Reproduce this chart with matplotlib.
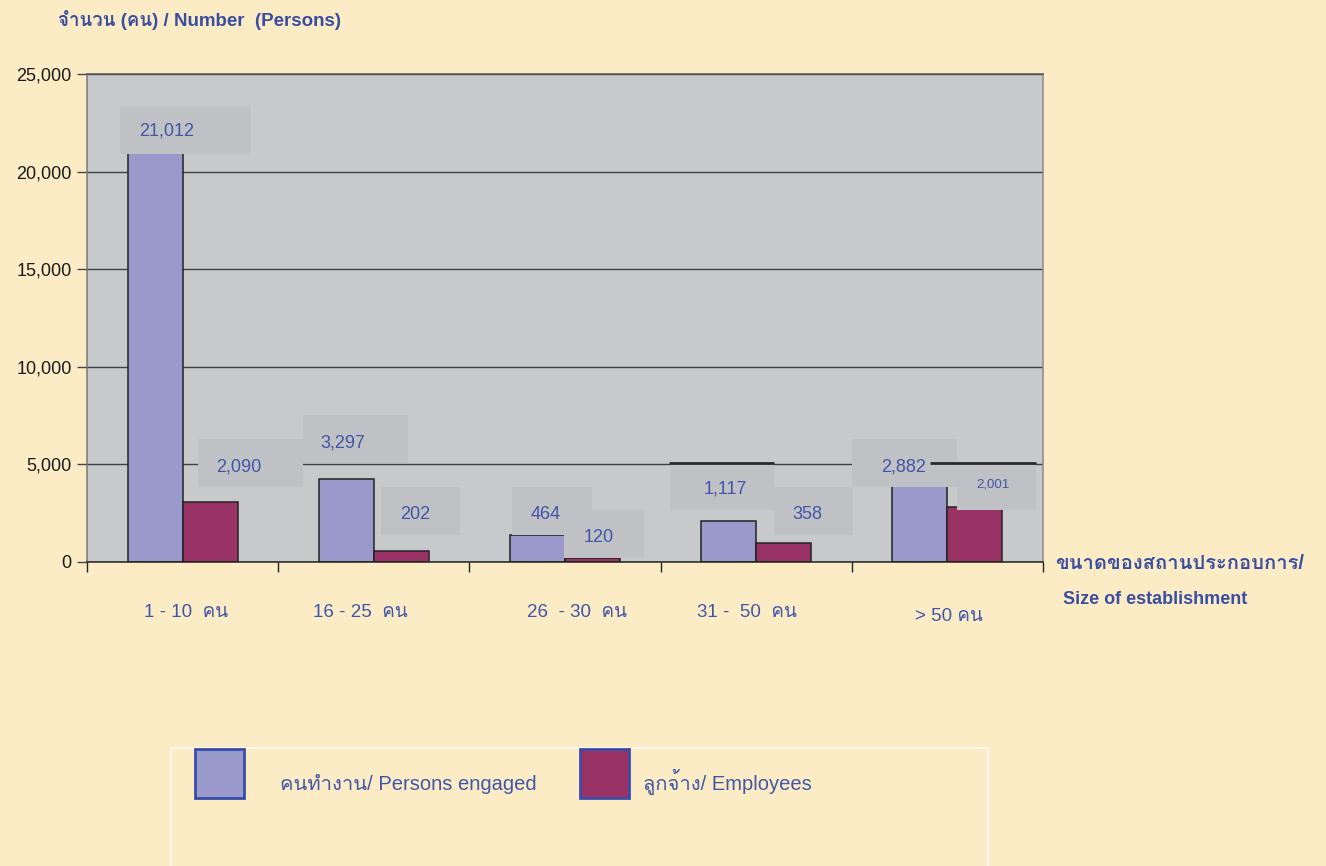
import numpy as np
import matplotlib.pyplot as plt
from matplotlib import font_manager
from matplotlib.patches import Rectangle
from matplotlib.ticker import FuncFormatter

# data
categories = ['1 - 10  คน', '16 - 25  คน', '26  - 30  คน', '31 -  50  คน', '> 50 คน']
series_names = ['คนทำงาน/ Persons engaged', 'ลูกจ้าง/ Employees']
# value labels as printed on the chart
persons_lbl = [21012, 3297, 464, 1117, 2882]
employees_lbl = [2090, 202, 120, 358, 2001]
# bar heights as drawn on the chart
persons_bar = [21012, 4270, 1380, 2110, 4100]
employees_bar = [3080, 580, 220, 975, 2800]
yticks = [0, 5000, 10000, 15000, 20000, 25000]


# find an installed font that has Thai glyphs (used as fallback for Thai only)
def thai_family():
    seen = set()
    for f in font_manager.fontManager.ttflist:
        if f.name in seen:
            continue
        seen.add(f.name)
        try:
            ft = font_manager.get_font(f.fname)
            if ft.get_char_index(0x0E01):
                return f.name
        except Exception:
            pass
    return None


th = thai_family()
fams = ['Liberation Sans'] + ([th] if th else []) + ['DejaVu Sans']
plt.rcParams['font.family'] = fams

bg = '#fcecc6'
plot_bg = '#c8c9cb'
box_bg = '#c0c1c4'
c_pers = '#9999cc'
c_emp = '#993366'
blue = '#4156a8'
dblue = '#3a4da0'

fig = plt.figure(figsize=(13.26, 8.66), dpi=100, facecolor=bg)
ax = fig.add_axes([87 / 1326, 1 - 562 / 866, 956 / 1326, 488 / 866])
ax.set_facecolor(plot_bg)

x = np.arange(len(categories))
w = 0.288
ax.bar(x, persons_bar, width=-w, align='edge', color=c_pers,
       edgecolor='#222222', linewidth=1.1, zorder=2)
ax.bar(x, employees_bar, width=w, align='edge', color=c_emp,
       edgecolor='#222222', linewidth=1.1, zorder=2)

ax.set_xlim(-0.5, 4.5)
ax.set_ylim(0, 25000)
ax.set_yticks(yticks)
ax.yaxis.set_major_formatter(FuncFormatter(lambda v, p: f'{int(v):,}'))
ax.tick_params(axis='y', direction='out', length=7, width=1, colors='#444444',
               labelsize=13, labelcolor='#1a1a1a', pad=4)
ax.set_xticks(np.arange(-0.5, 5, 1))
ax.set_xticklabels([])
ax.tick_params(axis='x', direction='out', length=7, width=1, colors='#222222')
ax.grid(axis='y', color='#404040', linewidth=1.0, zorder=1)
ax.set_axisbelow(True)
ax.spines['top'].set_color('#555555')
ax.spines['left'].set_color('#777777')
ax.spines['right'].set_color('#8a8a8a')
ax.spines['bottom'].set_color('#222222')
for s in ax.spines.values():
    s.set_linewidth(1.1)

# value label boxes: (x0, x1, y0, y1) and text position, per label
lbl_text = [f'{v:,}' for v in persons_lbl] + [f'{v:,}' for v in employees_lbl]
boxes = [(-0.327, 0.359, 20900, 23360), (0.631, 1.181, 5072, 7531),
         (1.725, 2.139, 1383, 3842), (2.547, 3.092, 2664, 5020),
         (3.500, 4.050, 3842, 6301),
         (0.081, 0.631, 3842, 6301), (1.039, 1.453, 1383, 3842),
         (1.997, 2.411, 205, 2664), (3.092, 3.505, 1383, 3842),
         (4.050, 4.463, 2664, 5072)]
txt_pos = [(-0.086, 22080), (0.84, 6096), (1.90, 2459), (2.84, 3740), (3.77, 4867),
           (0.296, 4867), (1.217, 2459), (2.175, 1230), (3.27, 2408), (4.238, 3945)]
sizes = [13] * 9 + [9.5]
for (x0, x1, y0, y1), (tx, ty), t, fs in zip(boxes, txt_pos, lbl_text, sizes):
    ax.add_patch(Rectangle((x0, y0), x1 - x0, y1 - y0, facecolor=box_bg,
                           edgecolor='none', zorder=3, clip_on=False))
    ax.text(tx, ty, t, color=blue, fontsize=fs, ha='center', va='center', zorder=5)

# stray dark segments just above the 5,000 line
ax.hlines([5072, 5072], [2.542, 3.908], [3.092, 4.463], color='#2a2a2a',
          linewidth=2.0, zorder=4)

# category labels
cat_x = [0.018, 0.929, 2.065, 2.95, 4.008]
cat_y = [-2818, -2818, -2818, -2818, -3020]
for cx, cy, c in zip(cat_x, cat_y, categories):
    ax.text(cx, cy, c, color=blue, fontsize=13.5, ha='center', va='baseline',
            clip_on=False)

# titles
fig.text(58 / 1326, 1 - 26 / 866, 'จำนวน (คน) / Number  (Persons)', color=dblue,
         fontsize=13.5, fontweight='bold', ha='left', va='baseline')
fig.text(1055 / 1326, 1 - 569 / 866, 'ขนาดของสถานประกอบการ/', color=dblue,
         fontsize=14.5, fontweight='bold', ha='left', va='baseline')
fig.text(1063 / 1326, 1 - 604 / 866, 'Size of establishment', color=dblue,
         fontsize=13, fontweight='bold', ha='left', va='baseline')

# legend drawn by hand
fig.patches.append(Rectangle((171 / 1326, -0.01), 817 / 1326, 1 - 748 / 866 + 0.01,
                             transform=fig.transFigure, facecolor='none',
                             edgecolor='#fffaf0', linewidth=1.3))
sw_x = [195, 580]
tx_x = [280, 643]
for sx, lx, col, name in zip(sw_x, tx_x, [c_pers, c_emp], series_names):
    fig.patches.append(Rectangle((sx / 1326, 1 - 798 / 866), 49 / 1326, 49 / 866,
                                 transform=fig.transFigure, facecolor=col,
                                 edgecolor='#3a4ca8', linewidth=2))
    fig.text(lx / 1326, 1 - 790 / 866, name, color=blue, fontsize=14.5,
             ha='left', va='baseline')

fig.savefig('out.png', dpi=100, facecolor=bg)
